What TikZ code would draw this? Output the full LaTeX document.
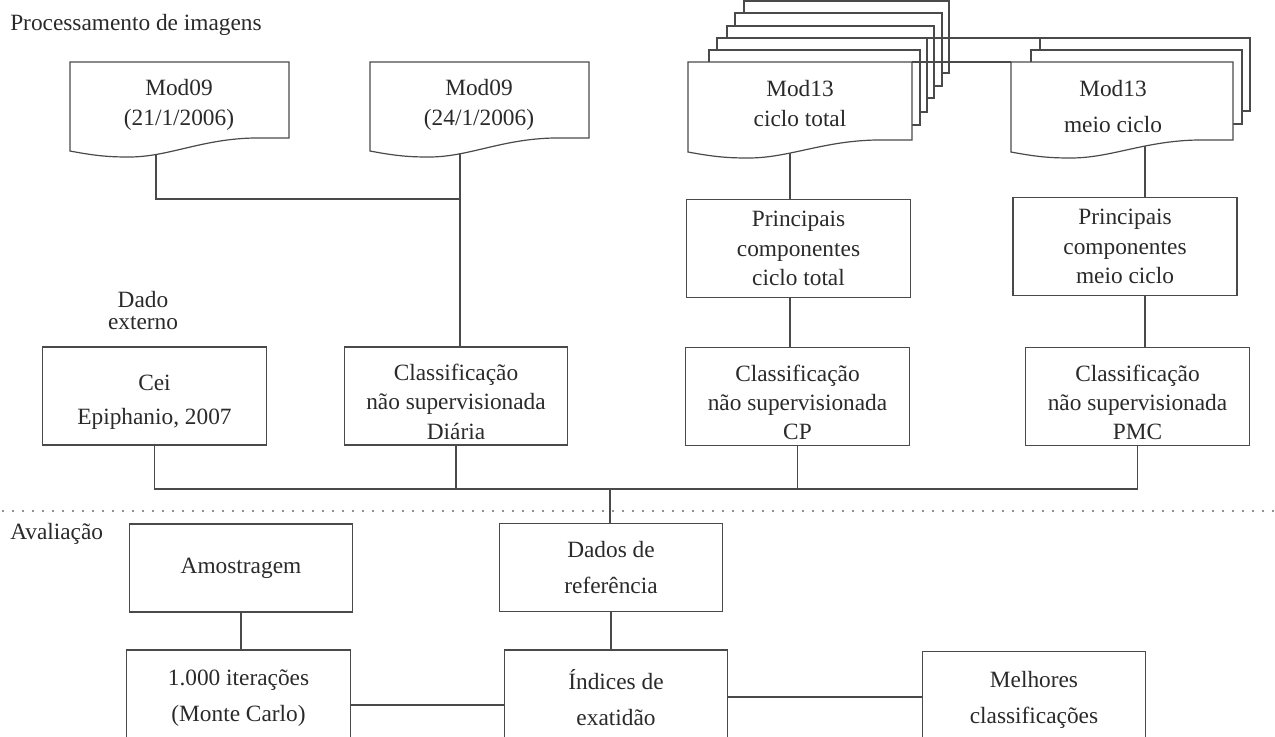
\documentclass[tikz,border=0pt]{standalone}
\usepackage{fontspec}
\setmainfont{Liberation Serif}
\definecolor{ln}{HTML}{4A4A4A}
\definecolor{txt}{HTML}{2A2A2A}
\newcommand{\docpath}[5]{%
  \draw[docline] (#1,#3) -- (#2,#3) -- (#2,#4) -- ({#1+0.84*(#2-#1)},#4)
    .. controls ({#1+0.6*(#2-#1)},{#4+1}) and ({#1+0.45*(#2-#1)},{#5+6}) .. ({#1+0.27*(#2-#1)},{#5+6})
    .. controls ({#1+0.18*(#2-#1)},{#5+6}) and ({#1+0.12*(#2-#1)},{#5+5}) .. (#1,#5) -- cycle;}
\newcommand{\lowerby}{\rule{0pt}{21pt}}
\begin{document}
\begin{tikzpicture}[x=0.75pt,y=-0.75pt,
  every node/.style={text=txt, font=\fontsize{17.5}{22}\selectfont},
  box/.style={draw=ln, line width=0.9pt, fill=white, inner sep=0pt, align=center,
              minimum width=167.5pt, minimum height=73.5pt},
  lowbox/.style={box, minimum height=66pt, font=\fontsize{17.5}{27}\selectfont},
  botbox/.style={box, minimum height=72pt, font=\fontsize{17.5}{27}\selectfont},
  conn/.style={draw=ln, line width=0.9pt},
  docline/.style={draw=ln, line width=0.9pt, fill=white},
  sheet/.style={draw=ln, line width=0.9pt, fill=white},
  doctext/.style={align=center, inner sep=0pt, font=\fontsize{17.5}{22.5}\selectfont},
  dots/.style={draw=ln!80, line width=1.6pt, line cap=round, dash pattern=on 0pt off 7.5pt}]
\useasboundingbox (0,0) rectangle (1275,736);
\clip (0,0) rectangle (1275,736);
\fill[white] (0,0) rectangle (1275,736);

% section labels
\node[anchor=west, inner sep=0pt] (proc) at (10,25) {Processamento de imagens};
\node[anchor=west, inner sep=0pt] (aval) at (10,534) {Avaliação};
\node[align=center, inner sep=0pt, font=\fontsize{17.5}{16.5}\selectfont] (dado) at (143,311) {Dado\\externo};

% boxes
\node[box] (cei) at (154.5,396) {\lowerby Cei\\[3pt]Epiphanio, 2007};
\node[box] (diaria) at (456,396) {\lowerby Classificação\\não supervisionada\\Diária};
\node[box] (cp) at (797.5,396.5) {\lowerby Classificação\\não supervisionada\\CP};
\node[box] (pmc) at (1137.5,396.5) {\lowerby Classificação\\não supervisionada\\PMC};
\node[box] (pc1) at (798.5,248.5) {Principais\\componentes\\ciclo total};
\node[box, minimum width=168pt] (pc2) at (1125,246.5) {Principais\\componentes\\meio ciclo};
\node[lowbox] (amo) at (241,568) {Amostragem};
\node[lowbox] (dados) at (611,567.5) {Dados de\\referência};
\node[botbox] (iter) at (238.5,698) {1.000 iterações\\(Monte Carlo)};
\node[botbox] (ind) at (616,698) {Índices de\\exatidão};
\node[botbox] (mel) at (1034,699.5) {Melhores\\classificações};

% connection points under the documents
\coordinate (d1b) at (156,140);
\coordinate (d2b) at (460,140);
\coordinate (m1b) at (790,140);
\coordinate (m2b) at (1145,140);
\coordinate (topbus) at (0,199);
\coordinate (bus) at (0,489);
\coordinate (mid) at (610,0);

% connectors
\draw[conn] (d1b) -- (d1b |- topbus) -| (d2b);
\draw[conn] (d2b) -- (d2b |- diaria.north);
\draw[conn] (m1b) -- (m1b |- pc1.north);
\draw[conn] (pc1.south -| m1b) -- (cp.north -| m1b);
\draw[conn] (m2b) -- (m2b |- pc2.north);
\draw[conn] (pc2.south -| m2b) -- (pmc.north -| m2b);
\draw[conn] (cei.south) -- (cei.south |- bus) -| (pmc.south);
\draw[conn] (diaria.south) -- (diaria.south |- bus);
\draw[conn] (cp.south) -- (cp.south |- bus);
\draw[conn] (mid |- bus) -- (dados.north -| mid);
\draw[conn] (dados.south) -- (ind.north -| dados.south);
\draw[conn] (amo.south) -- (iter.north -| amo.south);
\draw[conn] (iter.east |- 0,705) -- (ind.west |- 0,705);
\draw[conn] (ind.east |- 0,697) -- (mel.west |- 0,697);

% dotted separator
\draw[dots] (3,511) -- (1275,511);

% stacked sheets behind Mod13 ciclo total
\foreach \l/\r/\t/\b in {744/949/1/73, 735/942/13/86, 727/934/26/98, 717/927/38/112, 709/920/50/125}
  \draw[sheet] (\l,\t) rectangle (\r,\b);
% stacked sheets behind Mod13 meio ciclo
\foreach \l/\r/\t/\b in {1040/1250/38/111, 1031/1242/50/124}
  \draw[sheet] (\l,\t) rectangle (\r,\b);

% documents
\docpath{70}{289}{62}{138}{151}
\docpath{370}{589}{62}{138}{151}
\docpath{688}{912}{62}{140}{152}
\docpath{1011}{1233}{62}{140}{152}

% long top edges linking the stacks
\draw[conn] (912,62) -- (1011,62);
\draw[conn] (927,38) -- (1040,38);

% document texts
\node[doctext] (d1) at (179,105) {Mod09\\(21/1/2006)};
\node[doctext] (d2) at (479,105) {Mod09\\(24/1/2006)};
\node[doctext] (m1) at (800,104) {Mod13\\ciclo total};
\node[doctext, font=\fontsize{17.5}{27}\selectfont] (m2) at (1113,107) {Mod13\\meio ciclo};
\end{tikzpicture}
\end{document}
